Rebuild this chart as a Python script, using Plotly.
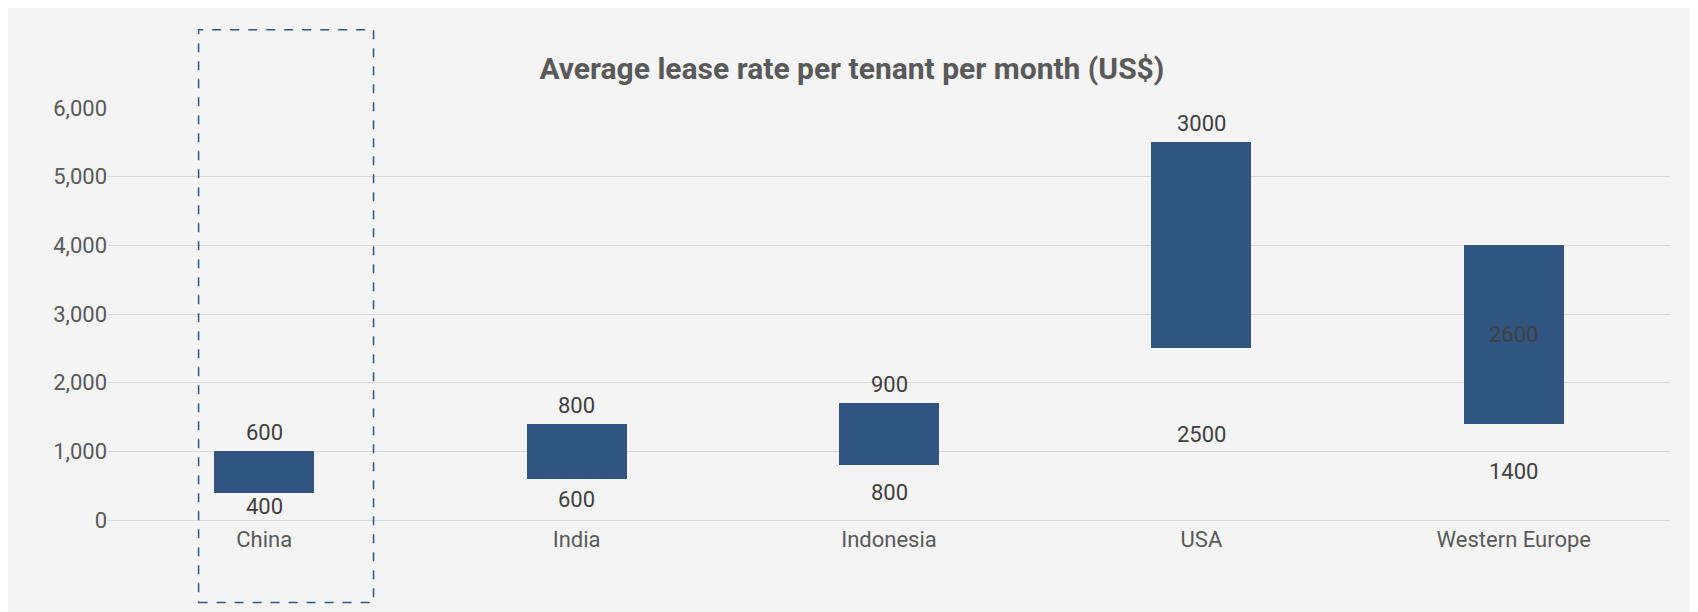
import plotly.graph_objects as go

categories = ["China", "India", "Indonesia", "USA", "Western Europe"]
low = [400, 600, 800, 2500, 1400]
span = [600, 800, 900, 3000, 2600]
tick_vals = [0, 1000, 2000, 3000, 4000, 5000, 6000]

color = "#2F5580"
txt = "#404040"
fig = go.Figure()
fig.add_bar(x=categories, y=low, marker=dict(color="rgba(0,0,0,0)", line=dict(width=0)),
            hoverinfo="skip", width=0.32)
fig.add_bar(x=categories, y=span, marker=dict(color=color, line=dict(width=0)), width=0.32)

ann = []
for c, l, s in zip(categories, low, span):
    ann.append(dict(x=c, y=l / 2, text=str(l), showarrow=False, font=dict(size=22, color=txt)))
    top = l + s
    if c == "Western Europe":
        ann.append(dict(x=c, y=l + s / 2, text=str(s), showarrow=False, font=dict(size=22, color=txt)))
    else:
        ann.append(dict(x=c, y=top, text=str(s), showarrow=False, yanchor="bottom", yshift=4,
                        font=dict(size=22, color=txt)))

fig.update_layout(
    barmode="stack", showlegend=False, width=1698, height=612,
    paper_bgcolor="#F4F4F4", plot_bgcolor="#F4F4F4",
    margin=dict(l=100, r=36, t=100, b=100),
    font=dict(family="Roboto", color="#595959", size=22),
    title=dict(text="<b>Average lease rate per tenant per month (US$)</b>", x=0.497, xanchor="center",
               y=1 - 60 / 612, yanchor="middle", font=dict(size=30, color="#595959")),
    xaxis=dict(showline=True, linecolor="#D9D9D9", ticks="", tickfont=dict(size=22)),
    yaxis=dict(range=[0, 6000], tickvals=tick_vals, tickformat=",", gridcolor="#D9D9D9",
               zeroline=False, ticks="", tickfont=dict(size=22)),
    annotations=ann,
    shapes=[dict(type="rect", xref="paper", yref="paper", x0=0.058, x1=0.17, y0=-0.2, y1=1.19,
                 line=dict(color="#2F5580", width=1.5, dash="dash"))],
)
fig.write_html("out.html")
